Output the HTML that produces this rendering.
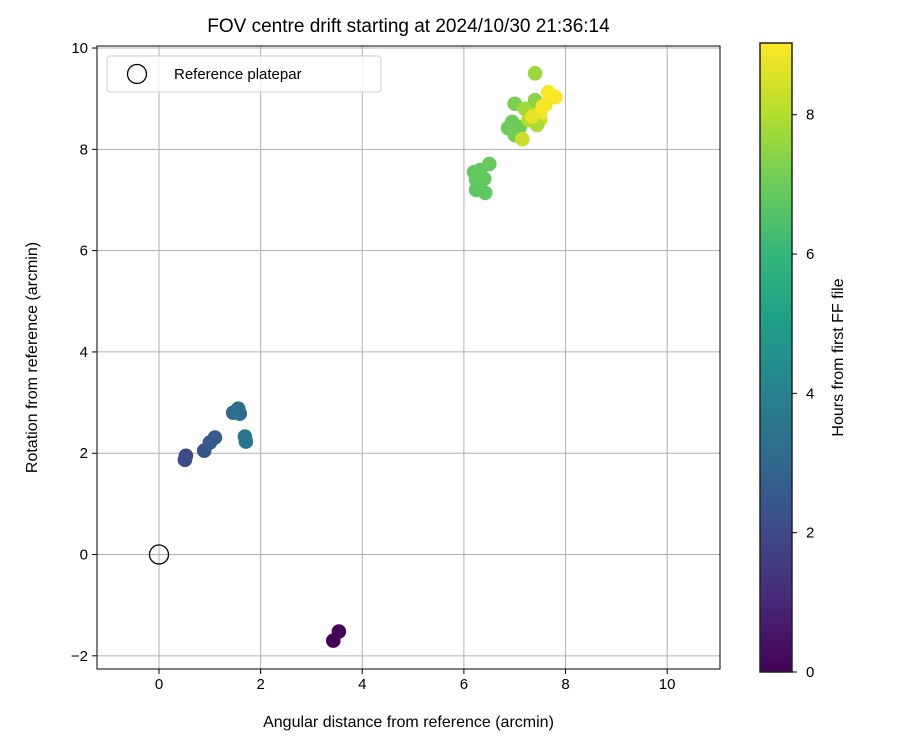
<!DOCTYPE html>
<html><head><meta charset="utf-8"><style>
body{margin:0;background:#fff;width:900px;height:750px;overflow:hidden}
text{font-family:"Liberation Sans","DejaVu Sans",sans-serif;fill:#000}
</style></head><body>
<svg id="chart" width="900" height="750" xmlns="http://www.w3.org/2000/svg">
<defs><linearGradient id="vir" x1="0" y1="1" x2="0" y2="0"></linearGradient></defs>
<g id="grid"></g><g id="pts"></g><g id="axes"></g>
</svg>
<script>
const xs=[3.43,3.54,0.51,0.53,0.89,1.0,1.1,1.46,1.56,1.59,1.69,1.71,6.2,6.32,6.5,6.24,6.4,6.24,6.42,7.4,7.0,6.95,6.87,7.0,7.1,7.15,7.34,7.4,7.27,7.5,7.6,7.66,7.8,7.5,7.44,7.2,7.35,7.55];
const ys=[-1.70,-1.52,1.87,1.95,2.05,2.21,2.31,2.80,2.88,2.78,2.33,2.23,7.55,7.59,7.71,7.40,7.42,7.20,7.14,9.5,8.9,8.54,8.42,8.28,8.44,8.2,8.78,8.97,8.58,8.58,8.88,9.13,9.03,8.72,8.48,8.8,8.65,8.85];
const hours=[0.05,0.1,2.0,2.05,2.3,2.5,2.6,3.1,3.15,3.2,3.5,3.55,6.8,6.8,6.9,6.8,6.85,6.75,6.8,7.7,7.2,7.0,7.0,7.1,7.0,8.3,7.6,7.4,8.0,8.5,8.8,9.0,9.0,8.9,7.9,7.8,8.7,8.95];
const xTicks=[0,2,4,6,8,10], yTicks=[-2,0,2,4,6,8,10], cTicks=[0,2,4,6,8];
const X0=97,X1=720,Y0=46,Y1=669,xmin=-1.22,xmax=11.04,ymin=-2.26,ymax=10.04;
const sx=v=>X0+(v-xmin)/(xmax-xmin)*(X1-X0), sy=v=>Y1-(v-ymin)/(ymax-ymin)*(Y1-Y0);
const CB={x:760,w:32,top:43,bot:672,max:9.03};const sc=v=>CB.bot-v/CB.max*(CB.bot-CB.top);
const vs=[[68,1,84],[72,40,120],[62,74,137],[49,104,142],[38,130,142],[31,158,137],[53,183,121],[109,205,89],[180,222,44],[253,231,37]];
function vir(t){t=Math.max(0,Math.min(1,t))*9;const i=Math.min(8,Math.floor(t)),f=t-i;const a=vs[i],b=vs[i+1];return `rgb(${a.map((c,k)=>Math.round(c+(b[k]-c)*f)).join(',')})`;}
const NS="http://www.w3.org/2000/svg";
function el(t,at,p,txt){const e=document.createElementNS(NS,t);for(const k in at)e.setAttribute(k,at[k]);if(txt!=null)e.textContent=txt;p.appendChild(e);return e;}
const svg=document.getElementById('chart'),G=document.getElementById('grid'),P=document.getElementById('pts'),A=document.getElementById('axes');
const gr=document.getElementById('vir');
vs.forEach((c,i)=>el('stop',{offset:(i/9),'stop-color':`rgb(${c})`},gr));
xTicks.forEach(v=>{const g=el('line',{x1:sx(v),x2:sx(v),y1:Y0,y2:Y1,stroke:'#b0b0b0','stroke-width':1},G);
 el('line',{x1:sx(v),x2:sx(v),y1:Y1,y2:Y1+5,stroke:'#000'},A);
 const t=el('text',{x:sx(v),y:Y1+20,'text-anchor':'middle','font-size':15},A,v);});
yTicks.forEach(v=>{const g=el('line',{x1:X0,x2:X1,y1:sy(v),y2:sy(v),stroke:'#b0b0b0','stroke-width':1},G);
 el('line',{x1:X0-5,x2:X0,y1:sy(v),y2:sy(v),stroke:'#000'},A);
 const t=el('text',{x:X0-9,y:sy(v)+5,'text-anchor':'end','font-size':15},A,v<0?'−'+(-v):v);});
xs.forEach((x,i)=>{const c=el('circle',{cx:sx(x),cy:sy(ys[i]),r:7.3,fill:vir(hours[i]/CB.max)},P);});
const ref=el('circle',{cx:sx(0),cy:sy(0),r:9.5,fill:'none',stroke:'#000','stroke-width':1.3},P);
const fr=el('rect',{x:X0,y:Y0,width:X1-X0,height:Y1-Y0,fill:'none',stroke:'#000','stroke-width':1},A);
const tt=el('text',{x:(X0+X1)/2,y:32,'text-anchor':'middle','font-size':19},A,'FOV centre drift starting at 2024/10/30 21:36:14');
const xl=el('text',{x:(X0+X1)/2,y:727,'text-anchor':'middle','font-size':16},A,'Angular distance from reference (arcmin)');
const yl=el('text',{x:0,y:0,'text-anchor':'middle','font-size':16,transform:`translate(37,${(Y0+Y1)/2}) rotate(-90)`},A,'Rotation from reference (arcmin)');
const lg=el('rect',{x:107,y:56,width:274,height:36,rx:3,fill:'#fff','fill-opacity':0.8,stroke:'#ccc'},A);
el('circle',{cx:137,cy:74,r:9.5,fill:'none',stroke:'#000','stroke-width':1.3},A);
const lt=el('text',{x:174,y:79,'font-size':15},A,'Reference platepar');
const cb=el('rect',{x:CB.x,y:CB.top,width:CB.w,height:CB.bot-CB.top,fill:'url(#vir)',stroke:'#222','stroke-width':1.5},A);
cTicks.forEach(v=>{el('line',{x1:CB.x+CB.w,x2:CB.x+CB.w+5,y1:sc(v),y2:sc(v),stroke:'#000'},A);
 const t=el('text',{x:CB.x+CB.w+14,y:sc(v)+5,'font-size':15},A,v);});
const cl=el('text',{x:0,y:0,'text-anchor':'middle','font-size':16,transform:`translate(843,${(CB.top+CB.bot)/2}) rotate(-90)`},A,'Hours from first FF file');
</script>
</body></html>
